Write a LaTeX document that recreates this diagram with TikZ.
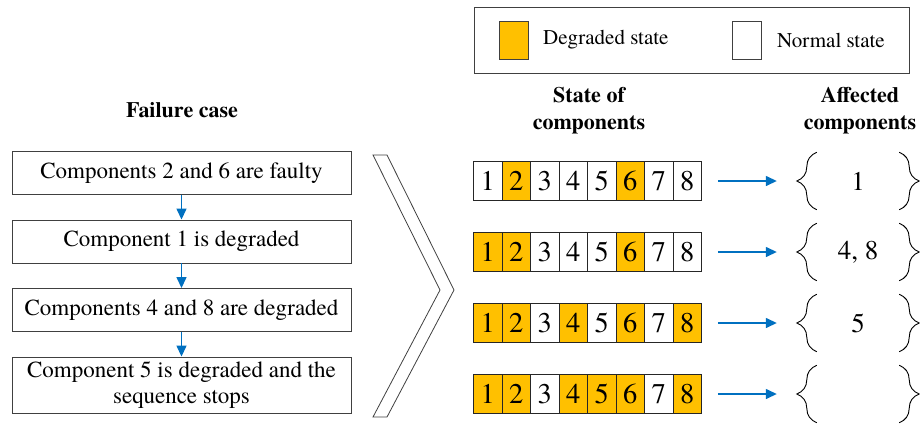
\documentclass[tikz,border=0pt]{standalone}
\usepackage{fontspec}
\setmainfont{texgyretermes}[Extension=.otf, UprightFont=*-regular, BoldFont=*-bold, ItalicFont=*-italic, BoldItalicFont=*-bolditalic]
\usetikzlibrary{arrows.meta,decorations.pathreplacing}
\definecolor{degr}{HTML}{FFC000}
\definecolor{flow}{HTML}{0070C0}
\definecolor{edge}{HTML}{404040}

\begin{document}
\begin{tikzpicture}[x=1pt,y=-1pt,
  casebox/.style={draw=edge, line width=0.9pt, minimum width=339pt, minimum height=43pt,
    inner sep=0pt, align=center, font=\fontsize{23}{26}\selectfont},
  head/.style={align=center, font=\fontsize{22}{27}\selectfont\bfseries},
  cell/.style={draw=black!85, line width=0.9pt, minimum width=28.5pt, minimum height=38.5pt,
    inner sep=0pt, font=\fontsize{28.5}{30}\selectfont},
  degcell/.style={cell, fill=degr},
  swatch/.style={draw=edge, line width=0.8pt, minimum width=29pt, minimum height=38pt, inner sep=0pt},
  legtext/.style={anchor=west, inner sep=0pt, font=\fontsize{21}{24}\selectfont},
  affset/.style={minimum width=82pt, minimum height=57pt, inner sep=0pt, font=\fontsize{27}{30}\selectfont},
  setbrace/.style={draw=black, line width=0.9pt, decorate, decoration={brace, amplitude=20pt, aspect=0.5}},
  flowarrow/.style={draw=flow, line width=1.4pt, -{Triangle[length=11pt,width=10pt]}}
]
\useasboundingbox (0,0) rectangle (920,423);

% legend
\node[draw=edge, line width=0.9pt, minimum width=435pt, minimum height=66pt, inner sep=0pt] (legend) at (691.5,40) {};
\node[swatch, fill=degr] (swdeg) at (513.5,40) {};
\node[legtext] (ldeg) at (543,40) {Degraded state};
\node[swatch, fill=white] (swnorm) at (746.5,40) {};
\node[legtext] (lnorm) at (777,40) {Normal state};

% column headings
\node[head] (hfail) at (182,110) {Failure case};
\node[head] (hstate) at (589,111) {State of\\components};
\node[head] (haff) at (860,111) {Affected\\components};

% failure sequence
\node[casebox] (b1) at (181.5,173) {Components 2 and 6 are faulty};
\node[casebox] (b2) at (181.5,241.5) {Component 1 is degraded};
\node[casebox] (b3) at (181.5,310) {Components 4 and 8 are degraded};
\node[casebox, minimum height=56pt] (b4) at (181.5,385) {Component 5 is degraded and the\\sequence stops};
\draw[flowarrow] (b1.south) -- (b2.north);
\draw[flowarrow] (b2.south) -- (b3.north);
\draw[flowarrow] (b3.south) -- (b4.north);

% chevron
\draw[draw=edge, line width=0.8pt, fill=white]
  (373,155) -- (387,155) -- (454,290) -- (387,417) -- (373,417) -- (440,290) -- cycle;

% component states, one row per step
\foreach \r/\yy/\deg in {1/181/{2,6}, 2/252/{1,2,6}, 3/323/{1,2,4,6,8}, 4/394/{1,2,4,5,6,8}} {
  \foreach \c in {1,...,8} {
    \def\sty{cell}
    \foreach \d in \deg { \ifnum\d=\c \global\def\cellsty{degcell}\fi }
    \ifdefined\cellsty \let\sty\cellsty \global\let\cellsty\undefined \fi
    \node[\sty] (r\r c\c) at ({473.5+28.5*(\c-0.5)},\yy) {\c};
  }
}

% affected component sets
\node[affset] (a1) at (858,181) {1};
\node[affset] (a2) at (858,252) {4, 8};
\node[affset] (a3) at (858,323) {5};
\node[affset] (a4) at (858,394) {};
\foreach \i in {1,...,4} {
  \draw[setbrace] (a\i.south west) -- (a\i.north west);
  \draw[setbrace] (a\i.north east) -- (a\i.south east);
  \draw[flowarrow] ([xshift=16pt]r\i c8.east) -- ([xshift=-40pt]a\i.west);
}
\end{tikzpicture}
\end{document}
